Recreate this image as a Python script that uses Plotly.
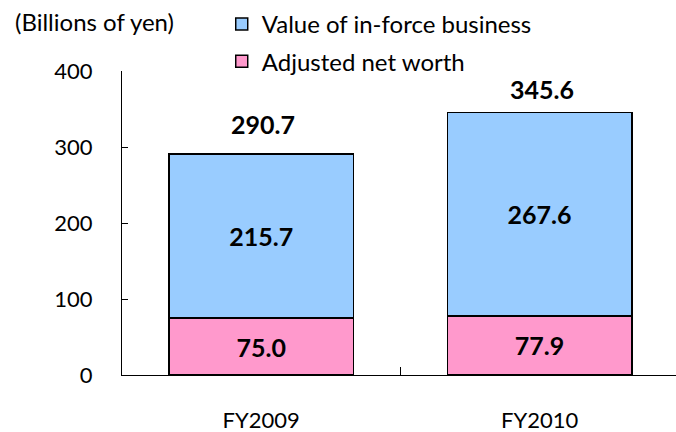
import plotly.graph_objects as go

categories = ["FY2009", "FY2010"]
adjusted_net_worth = [75.0, 77.9]
value_in_force = [215.7, 267.6]
totals = [290.7, 345.6]
y_ticks = [0, 100, 200, 300, 400]

FONT = "Lato, 'Open Sans', sans-serif"
total_label_shift = [30, 23]  # px above bar top (style)

fig = go.Figure()
fig.add_trace(go.Bar(
    x=categories, y=adjusted_net_worth, name="Adjusted net worth",
    legendgroup="a", legendrank=2,
    marker=dict(color="#FF99CC", line=dict(color="black", width=1.5)),
    texttemplate="<b>%{y:.1f}</b>", textposition="inside", insidetextanchor="middle",
    textfont=dict(size=25, color="black", family=FONT), width=0.663,
))
fig.add_trace(go.Bar(
    x=categories, y=value_in_force, name="Value of in-force business",
    legendgroup="b", legendrank=1,
    marker=dict(color="#99CCFF", line=dict(color="black", width=1.5)),
    texttemplate="<b>%{y:.1f}</b>", textposition="inside", insidetextanchor="middle",
    textfont=dict(size=25, color="black", family=FONT), width=0.663,
))

for c, t, s in zip(categories, totals, total_label_shift):
    fig.add_annotation(x=c, y=t, text=f"<b>{t:.1f}</b>", showarrow=False,
                       yanchor="middle", yshift=s, xshift=2,
                       font=dict(size=25, color="black", family=FONT))

fig.add_annotation(xref="paper", yref="paper", x=-0.197, y=1.163, xanchor="left", yanchor="middle",
                   text="(Billions of yen)", showarrow=False,
                   font=dict(size=24, color="black", family=FONT))

fig.update_layout(
    width=676, height=432,
    margin=dict(l=122, r=0, t=71, b=57, autoexpand=False),
    barmode="stack",
    plot_bgcolor="white", paper_bgcolor="white",
    font=dict(family=FONT, color="black", size=22),
    legend=dict(x=0.18, y=1.227, xanchor="left", yanchor="top",
                traceorder="grouped", tracegroupgap=3,
                font=dict(size=24, family=FONT), bgcolor="rgba(0,0,0,0)",
                itemwidth=30),
    xaxis=dict(range=[-0.5, 1.49], showline=True, linecolor="black", linewidth=1.2,
               ticks="inside", tickson="boundaries", ticklen=8, tickcolor="black",
               tickfont=dict(size=22), showgrid=False, ticklabelstandoff=25),
    yaxis=dict(range=[0, 400], tickvals=y_ticks, showline=True, linecolor="black",
               linewidth=1.2, ticks="inside", ticklen=6, tickcolor="black",
               tickfont=dict(size=22), showgrid=False, zeroline=False,
               ticklabelstandoff=24),
)

fig.write_html("out.html", config={"displayModeBar": False},
               post_script="document.body.style.margin='0';")
